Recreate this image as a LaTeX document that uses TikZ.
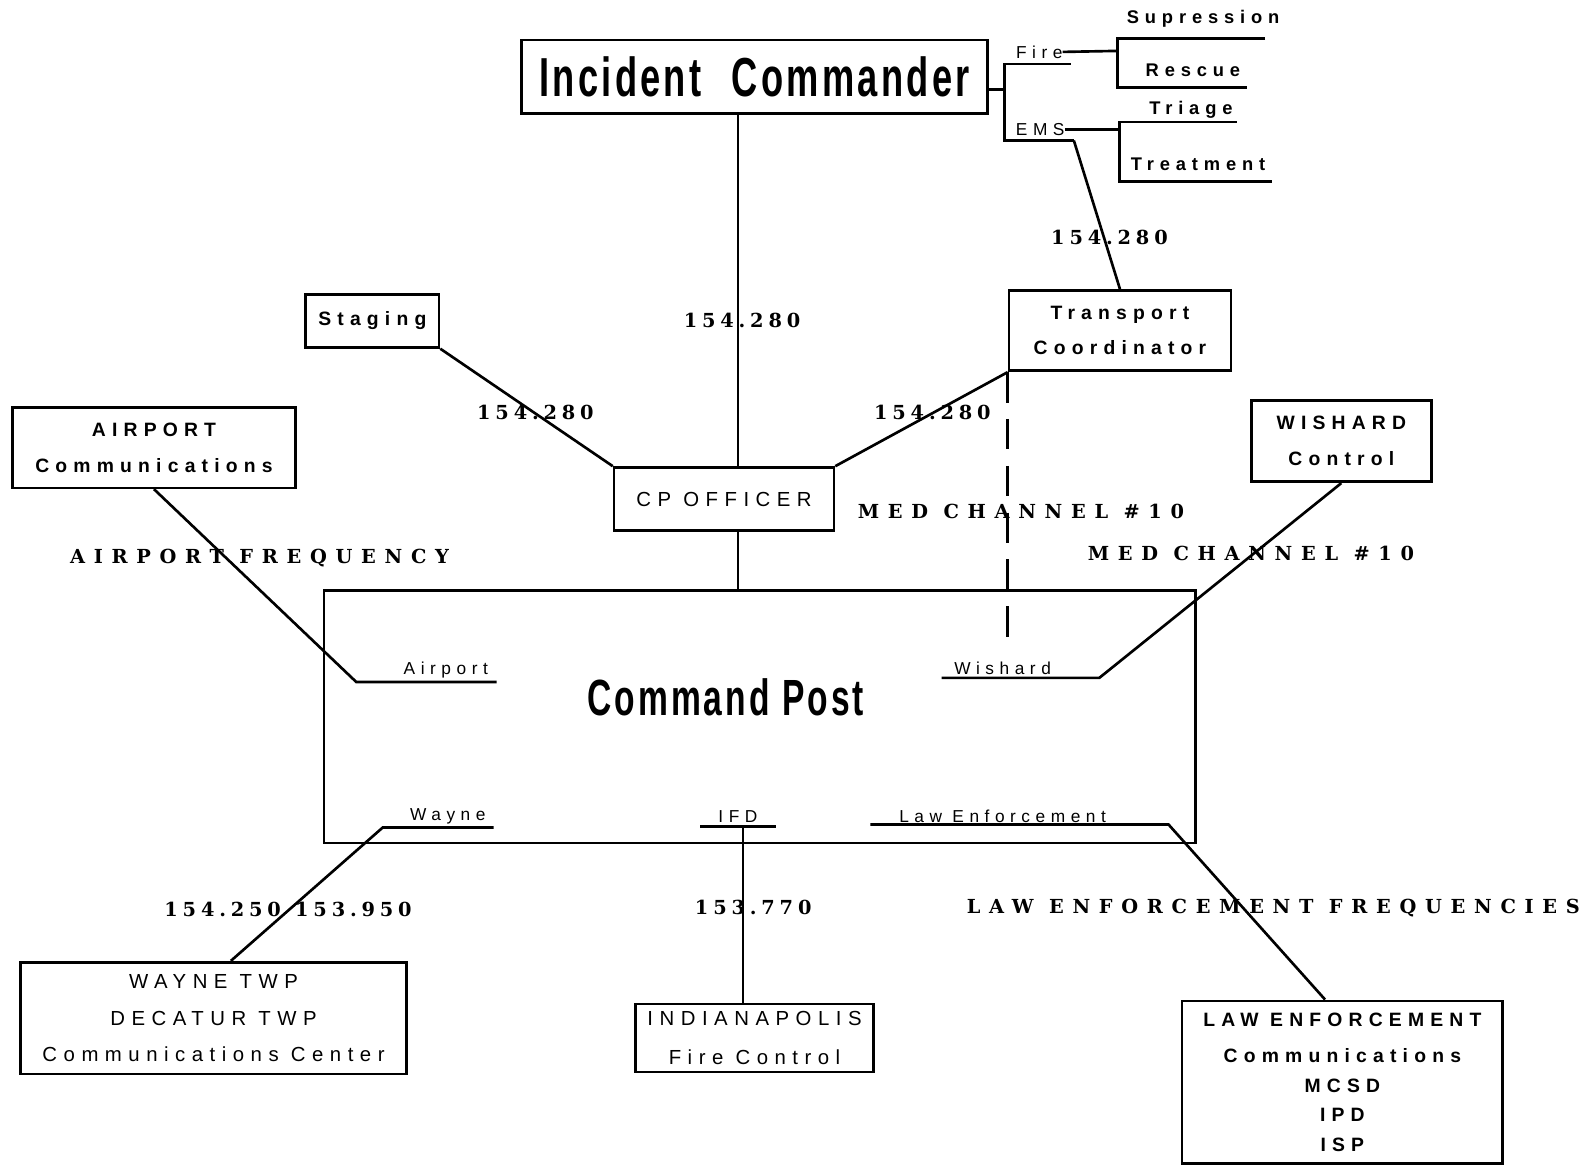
\documentclass[tikz,border=0pt]{standalone}
\usepackage{fontspec}
\usetikzlibrary{calc}
\setmainfont{Liberation Sans}
\newfontfamily\sansfont[LetterSpace=32]{Liberation Sans}
\newfontfamily\titlefont[FakeStretch=0.66,LetterSpace=6]{Liberation Sans}
\newfontfamily\wordfont[LetterSpace=45]{DejaVu Serif}
\newfontfamily\numfont[LetterSpace=25]{DejaVu Serif}
\begin{document}
\begin{tikzpicture}[x=1pt,y=-1pt,
  box/.style={draw, line width=2.6pt, inner sep=0pt, anchor=north west, align=center,
    font=\sansfont\fontsize{20}{34}\selectfont},
  bbox/.style={box, font=\sansfont\bfseries\fontsize{19}{35}\selectfont},
  conn/.style={line width=2.6pt, line join=miter},
  lab/.style={font=\sansfont\fontsize{17}{20}\selectfont, inner sep=0pt},
  blab/.style={font=\sansfont\bfseries\fontsize{18}{20}\selectfont, inner sep=0pt},
  freq/.style={font=\numfont\bfseries\fontsize{19}{22}\selectfont, inner sep=0pt},
  wfreq/.style={font=\wordfont\bfseries\fontsize{19}{22}\selectfont, inner sep=0pt},
  title/.style={font=\titlefont\bfseries\fontsize{#1}{#1}\selectfont}
]
\useasboundingbox (0,0) rectangle (1568,1144);
\fill[white] (0,0) rectangle (1568,1144);

% boxes
\node[box, title=54, minimum width=458pt, minimum height=72pt] (ic) at (511,38) {Incident\hspace{0.55em}Commander};
\node[bbox, minimum width=131pt, minimum height=52pt] (stg) at (299,288) {Staging};
\node[bbox, minimum width=218pt, minimum height=79pt] (tc) at (990,284) {Transport\\Coordinator};
\node[bbox, minimum width=278pt, minimum height=79pt] (apc) at (11,399) {AIRPORT\\Communications};
\node[box, minimum width=216pt, minimum height=62pt] (cpo) at (602,458) {CP OFFICER};
\node[bbox, minimum width=177pt, minimum height=80pt] (wsh) at (1228,392) {WISHARD\\Control};
\node[box, minimum width=856pt, minimum height=248pt] (cp) at (317,579) {};
\node[box, font=\sansfont\fontsize{20}{36}\selectfont, minimum width=379pt, minimum height=110pt] (wtp) at (19,944) {WAYNE TWP\\DECATUR TWP\\Communications Center};
\node[box, font=\sansfont\fontsize{20}{38}\selectfont, minimum width=234pt, minimum height=67pt] (ind) at (623,985) {INDIANAPOLIS\\Fire Control};
\node[box, font=\sansfont\bfseries\fontsize{19}{29}\selectfont, minimum width=315pt, minimum height=160pt] (law) at (1160,982) {LAW ENFORCEMENT\\[6pt]Communications\\MCSD\\IPD\\ISP};

\node[title=50, inner sep=0pt] (cpt) at (713,685) {Command Post};

% frequency labels
\node[freq] (f1) at (729,315) {154.280};
\node[freq] (f2) at (526,405) {154.280};
\node[freq] (f3) at (916,405) {154.280};
\node[freq] (f4) at (1090,233) {154.280};
\node[wfreq] (m1) at (1003,502) {MED CHANNEL \#10};
\node[wfreq] (m2) at (1229,544) {MED CHANNEL \#10};
\node[wfreq] (af) at (255,548) {AIRPORT FREQUENCY};
\node[freq] (wf) at (283,893) {154.250\hspace{14pt}153.950};
\node[freq] (iff) at (740,892) {153.770};
\node[wfreq] (lf) at (1251,892) {LAW ENFORCEMENT FREQUENCIES};

% underline labels in the command post
\node[lab] (apt) at (438,658) {Airport};
\node[lab] (wst) at (985,657) {Wishard};
\node[lab] (wyt) at (440,802) {Wayne};
\node[lab] (ift) at (725,802) {IFD};
\node[lab] (let) at (985,802) {Law Enforcement};

\coordinate (apL) at (350,670); \coordinate (apR) at (488,670);
\coordinate (wsL) at (925,666); \coordinate (wsR) at (1080,666);
\coordinate (wyL) at (376,813); \coordinate (wyR) at (485,813);
\coordinate (ifL) at (688,812); \coordinate (ifR) at (762,812); \coordinate (ifM) at (730,812);
\coordinate (leL) at (855,810); \coordinate (leR) at (1148,810);
\coordinate (vx) at (725,0);
\coordinate (dashend) at (990,638);

% connectors
\draw[conn, line width=2pt] (ic.south -| vx) -- (cpo.north -| vx);
\draw[conn] (cpo.south -| vx) -- (cp.north -| vx);
\draw[conn] (stg.south east) -- (cpo.north west);
\draw[conn] (tc.south west) -- (cpo.north east);
\draw[conn, dash pattern=on 30pt off 16pt] (tc.south west) -- (dashend);
\draw[conn] (apc.south) -- (apL) -- (apR);
\draw[conn] (wsh.south) -- (wsR) -- (wsL);
\draw[conn] ($(wtp.north)+(17,0)$) -- (wyL) -- (wyR);
\draw[conn] (ifL) -- (ifR);
\draw[conn] (ifM) -- (ind.north -| ifM);
\draw[conn] (leL) -- (leR) -- ($(law.north)+(-17,0)$);

% Fire / EMS branch
\node[lab, font=\sansfont\fontsize{17}{18}\selectfont] (fire) at (1021,51) {Fire};
\node[lab, font=\sansfont\fontsize{17}{18}\selectfont] (ems) at (1022,127) {EMS};
\node[blab] (sup) at (1182,18) {Supression};
\node[blab] (res) at (1172,69) {Rescue};
\node[blab] (tri) at (1170,108) {Triage};
\node[blab] (trt) at (1177,161) {Treatment};

\coordinate (brM) at (987,88);
\coordinate (brT) at (987,63); \coordinate (brB) at (987,138);
\coordinate (fireR) at (1052,63); \coordinate (emsR) at (1055,138);
\coordinate (srM) at (1098,50); \coordinate (srT) at (1098,38); \coordinate (srB) at (1098,86);
\coordinate (srTe) at (1243,38); \coordinate (srBe) at (1225,86);
\coordinate (ttM) at (1100,127); \coordinate (ttT) at (1100,120); \coordinate (ttB) at (1100,178);
\coordinate (ttTe) at (1215,120); \coordinate (ttBe) at (1250,178);

\draw[conn] (ic.east |- brM) -- (brM);
\draw[conn] (fireR) -- (brT) -- (brB) -- (emsR);
\draw[conn] (fire.east) -- (srM);
\draw[conn] (srTe) -- (srT) -- (srB) -- (srBe);
\draw[conn] (ems.east) -- (ttM);
\draw[conn] (ttTe) -- (ttT) -- (ttB) -- (ttBe);
\draw[conn] (emsR) -- (tc.north);
\end{tikzpicture}
\end{document}
